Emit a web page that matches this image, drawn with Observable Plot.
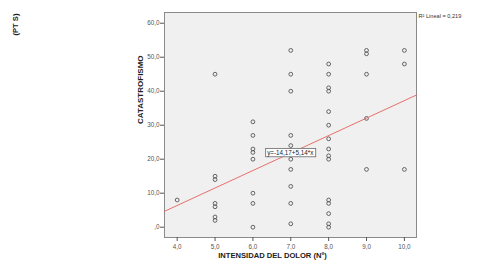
<!DOCTYPE html>
<html>
<head>
<meta charset="utf-8">
<script src="https://cdn.jsdelivr.net/npm/d3@7"></script>
<script src="https://cdn.jsdelivr.net/npm/@observablehq/plot@0.6"></script>
<style>
  html, body { margin: 0; padding: 0; background: white; }
  #chart { width: 479px; height: 266px; }
</style>
</head>
<body>
<div id="chart"></div>
<script>
const intensidad = [
  4,
  5, 5, 5, 5, 5, 5, 5,
  6, 6, 6, 6, 6, 6, 6, 6,
  7, 7, 7, 7, 7, 7, 7, 7, 7, 7,
  8, 8, 8, 8, 8, 8, 8, 8, 8, 8, 8, 8, 8, 8, 8,
  9, 9, 9, 9, 9,
  10, 10, 10
];
const catastrofismo = [
  8,
  45, 15, 14, 7, 6, 3, 2,
  31, 27, 23, 22, 20, 10, 7, 0,
  52, 45, 40, 27, 24, 20, 17, 12, 7, 1,
  48, 45, 41, 40, 34, 30, 26, 23, 21, 20, 8, 7, 4, 1, 0,
  52, 51, 45, 32, 17,
  52, 48, 17
];
const xTicks = [4, 5, 6, 7, 8, 9, 10];
const xTickLabels = ["4,0", "5,0", "6,0", "7,0", "8,0", "9,0", "10,0"];
const yTicks = [0, 10, 20, 30, 40, 50, 60];
const yTickLabels = [",0", "10,0", "20,0", "30,0", "40,0", "50,0", "60,0"];
const xDomain = [3.665, 10.32];
const yDomain = [-3.03, 63.15];
const intercept = -14.17;
const slope = 5.14;
const equationText = "y=-14,17+5,14*x";
const equationAt = {x: 7, y: 21.8};
const r2Text = "R\u00B2 Lineal = 0,219";
const xTitle = "INTENSIDAD DEL DOLOR (N\u00BA)";
const yTitle = "CATASTROFISMO";
const sideText = "(PT S)";

const points = intensidad.map((x, i) => ({x, y: catastrofismo[i]}));
const fit = xDomain.map(x => ({x, y: intercept + slope * x}));

const chart = Plot.plot({
  width: 479,
  height: 266,
  marginLeft: 164,
  marginRight: 63,
  marginTop: 12,
  marginBottom: 29,
  x: {domain: xDomain},
  y: {domain: yDomain},
  style: {fontFamily: "'Liberation Sans', Arial, sans-serif", background: "white", overflow: "visible"},
  marks: [
    Plot.frame({fill: "#f0f0f0", stroke: "#8a8a8a"}),
    Plot.axisY(yTicks, {tickSize: 4, tickPadding: 1, fontSize: 6.3, color: "#555",
      tickFormat: d => yTickLabels[yTicks.indexOf(d)], label: null}),
    Plot.axisX(xTicks, {tickSize: 4, tickPadding: 3, fontSize: 6.3, color: "#555",
      tickFormat: d => xTickLabels[xTicks.indexOf(d)], label: null}),
    Plot.dot(points, {x: "x", y: "y", r: 1.9, stroke: "#555", strokeWidth: 0.9}),
    Plot.line(fit, {x: "x", y: "y", stroke: "#e6706c", strokeWidth: 1}),
    Plot.text([r2Text], {frameAnchor: "top-right", dx: 2, dy: 2, text: d => d, textAnchor: "start",
      fontSize: 5.6, fill: "#333"}),
    Plot.text([yTitle], {frameAnchor: "left", dx: -24, dy: -1, rotate: -90, text: d => d,
      fontSize: 8, fontWeight: "bold", fill: "#222"}),
    Plot.text([xTitle], {frameAnchor: "bottom", dx: -18, dy: 20, text: d => d,
      fontSize: 7.6, fontWeight: "bold", fill: "#222"}),
    Plot.text([sideText], {frameAnchor: "top-left", dx: -151.5, dy: 23, rotate: -90, text: d => d,
      fontSize: 7.6, fontWeight: "bold", fill: "#222"})
  ]
});
document.getElementById("chart").appendChild(chart);

// equation label in a white box, placed through the chart's own scales
const sx = chart.scale("x"), sy = chart.scale("y");
const cx = sx.apply(equationAt.x), cy = sy.apply(equationAt.y);
const g = d3.select(chart).append("g");
const rect = g.append("rect");
const t = g.append("text")
  .attr("x", cx).attr("y", cy)
  .attr("text-anchor", "middle").attr("dominant-baseline", "central")
  .attr("font-size", 6.3).attr("fill", "#222")
  .attr("font-family", "'Liberation Sans', Arial, sans-serif")
  .text(equationText);
const bb = t.node().getBBox();
rect.attr("x", bb.x - 1.5).attr("y", cy - 4.2)
  .attr("width", bb.width + 3).attr("height", 8.4)
  .attr("fill", "white").attr("stroke", "#666").attr("stroke-width", 0.8);
</script>
</body>
</html>
